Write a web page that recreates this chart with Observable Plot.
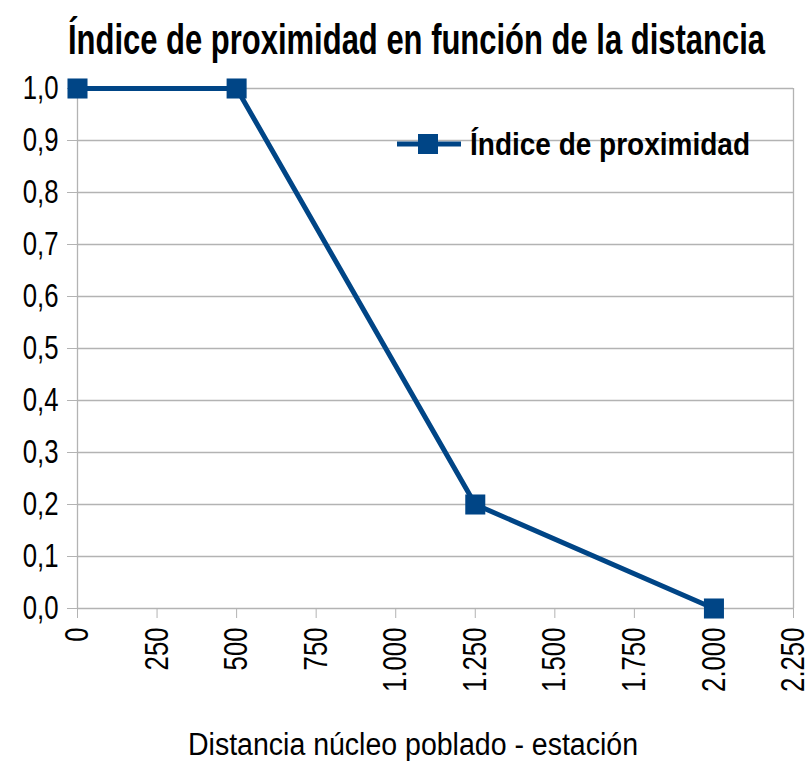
<!DOCTYPE html>
<html>
<head>
<meta charset="utf-8">
<script src="https://cdn.jsdelivr.net/npm/d3@7"></script>
<script src="https://cdn.jsdelivr.net/npm/@observablehq/plot@0.6"></script>
<style>
  html, body { margin: 0; padding: 0; background: #fff; }
  #wrap { position: relative; width: 809px; height: 761px; overflow: hidden;
          font-family: "Liberation Sans", Arial, sans-serif; }
  .fit { position: absolute; white-space: nowrap; line-height: 1; color: #000; transform-origin: 0 50%; }
  #title { font-weight: bold; font-size: 42px; }
  #xlabel { font-size: 31px; }
  #legendText { font-weight: bold; font-size: 32px; }
  #chart { position: absolute; top: 60px; left: 0; }
  #legendKey { position: absolute; }
</style>
</head>
<body>
<div id="wrap">
  <div id="title" class="fit"></div>
  <div id="chart"></div>
  <svg id="legendKey" width="64" height="24"></svg>
  <div id="legendText" class="fit"></div>
  <div id="xlabel" class="fit"></div>
</div>
<script>
const chartTitle = "Índice de proximidad en función de la distancia";
const xTitle = "Distancia núcleo poblado - estación";
const seriesName = "Índice de proximidad";
const distances = [0, 500, 1250, 2000];
const proximity = [1, 1, 0.2, 0];
const xTicks = [0, 250, 500, 750, 1000, 1250, 1500, 1750, 2000, 2250];
const yTicks = [0, 0.1, 0.2, 0.3, 0.4, 0.5, 0.6, 0.7, 0.8, 0.9, 1.0];
const lineColor = "#004586";
const gridColor = "#b3b3b3";

const data = distances.map((d, i) => ({x: d, y: proximity[i]}));

const fmtX = d => d3.format(",")(d).replace(/,/g, ".");
const fmtY = d => d3.format(".1f")(d).replace(".", ",");

const fontFam = '"Liberation Sans", Arial, sans-serif';

const plot = Plot.plot({
  width: 809,
  height: 701,
  marginTop: 28,
  marginBottom: 153,
  marginLeft: 77,
  marginRight: 16,
  style: {fontFamily: fontFam, fontSize: "33px", color: "#000", background: "transparent", overflow: "visible"},
  x: {domain: [0, 2250]},
  y: {domain: [0, 1]},
  marks: [
    Plot.gridY(yTicks, {stroke: gridColor, strokeOpacity: 1, strokeWidth: 1.3}),
    Plot.ruleX([0, 2250], {stroke: gridColor, strokeWidth: 1.3}),
    Plot.axisY(yTicks, {tickFormat: fmtY, tickSize: 10, tickPadding: 9, stroke: gridColor, label: null, fontSize: 33, fill: "#000"}),
    Plot.axisX(xTicks, {tickFormat: fmtX, tickSize: 10, tickPadding: 9, tickRotate: -90, stroke: gridColor, label: null, fontSize: 33, fill: "#000"}),
    Plot.line(data, {x: "x", y: "y", stroke: lineColor, strokeWidth: 5}),
    Plot.dot(data, {x: "x", y: "y", symbol: "square", r: 11.3, fill: lineColor, stroke: "none"})
  ]
});
document.getElementById("chart").appendChild(plot);

// narrow the axis tick labels horizontally (condensed look)
const narrow = 0.78;
plot.querySelectorAll("text").forEach(t => {
  const tr = t.getAttribute("transform") || "";
  t.setAttribute("transform", `${tr} scale(${narrow},1)`);
});

// fit html texts to target widths / centers (condensed look)
const ctx = document.createElement("canvas").getContext("2d");
function place(id, text, font, cx, cy, w, anchor) {
  const el = document.getElementById(id);
  el.textContent = text;
  ctx.font = font;
  const mw = ctx.measureText(text).width;
  const s = w / mw;
  const left = anchor === "start" ? cx : cx - w / 2;
  el.style.left = left + "px";
  el.style.top = (cy - el.offsetHeight / 2) + "px";
  el.style.transform = `scaleX(${s})`;
}
place("title", chartTitle, "bold 42px 'Liberation Sans'", 416, 40, 697);
place("xlabel", xTitle, "31px 'Liberation Sans'", 413, 744, 450);
place("legendText", seriesName, "bold 32px 'Liberation Sans'", 470, 144, 280, "start");

// legend key
const key = d3.select("#legendKey").style("left", "397px").style("top", "132px");
key.append("line").attr("x1", 0).attr("x2", 64).attr("y1", 12).attr("y2", 12)
  .attr("stroke", lineColor).attr("stroke-width", 5);
key.append("rect").attr("x", 21).attr("y", 2).attr("width", 20).attr("height", 20).attr("fill", lineColor);
</script>
</body>
</html>
